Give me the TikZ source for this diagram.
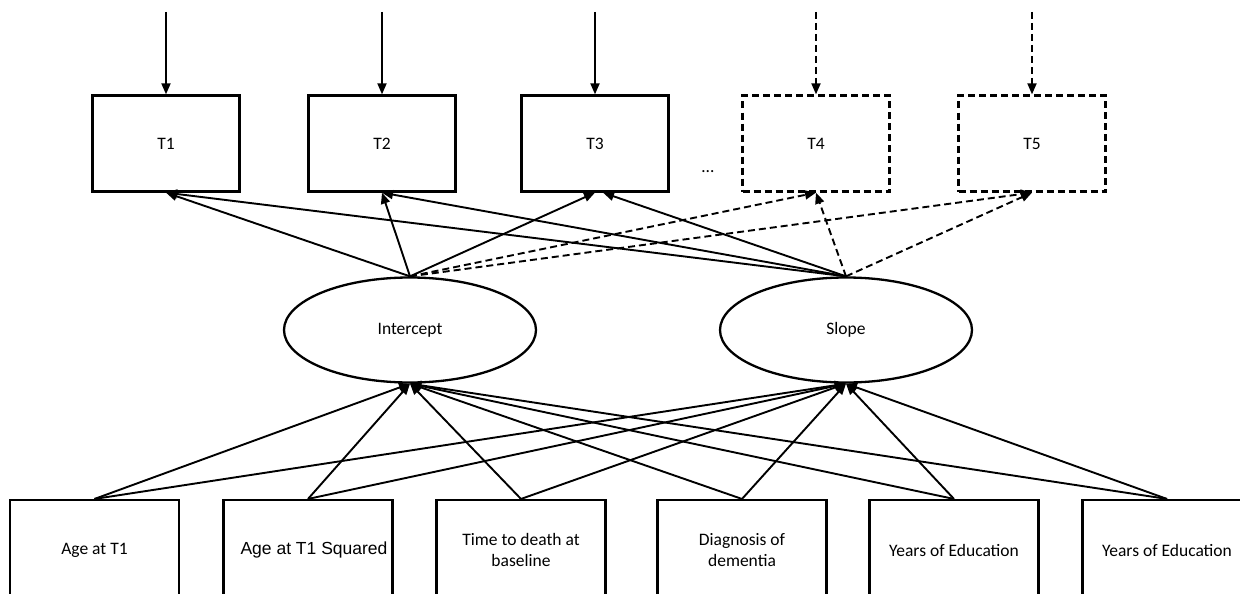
\documentclass[tikz,border=0pt]{standalone}
\usepackage{fontspec}
\setmainfont{Carlito}
\newfontfamily\arialf{Liberation Sans}
\usetikzlibrary{shapes.geometric,arrows.meta}
\begin{document}
\begin{tikzpicture}[x=1pt,y=-1pt,
  every node/.style={font=\fontsize{17.5}{21}\selectfont},
  tbox/.style={draw,line width=2.3pt,minimum width=147pt,minimum height=96pt,inner sep=0pt},
  dbox/.style={tbox,dash pattern=on 7pt off 4pt},
  pbox/.style={draw,line width=2.1pt,minimum width=169pt,minimum height=100pt,inner sep=0pt,align=center},
  lat/.style={draw,ellipse,line width=2.3pt,minimum width=252pt,minimum height=105pt,inner sep=0pt},
  arr/.style={line width=1.9pt,-{Triangle[length=11pt,width=9pt]}},
  darr/.style={arr,dash pattern=on 7pt off 4pt}]
\useasboundingbox (0,0) rectangle (1240,594);
\clip (0,0) rectangle (1240,594);
\fill[white] (0,0) rectangle (1240,594);
% observed variables
\node[tbox] (t1) at (166,143.5) {T1};
\node[tbox] (t2) at (382,143.5) {T2};
\node[tbox] (t3) at (595,143.5) {T3};
\node[dbox] (t4) at (816,143.5) {T4};
\node[dbox] (t5) at (1032,143.5) {T5};
\node (dots) at (708,172) {…};
% error arrows
\coordinate (e1) at (166,12);
\coordinate (e2) at (382,12);
\coordinate (e3) at (595,12);
\coordinate (e4) at (816,12);
\coordinate (e5) at (1032,12);
\draw[arr] (e1) -- (t1.north);
\draw[arr] (e2) -- (t2.north);
\draw[arr] (e3) -- (t3.north);
\draw[darr] (e4) -- (t4.north);
\draw[darr] (e5) -- (t5.north);
% latent
\node[lat] (int) at (410,330) {Intercept};
\node[lat] (slo) at (846,330) {Slope};
% loadings
\draw[arr] (int.north) -- (t1.south);
\draw[arr] (int.north) -- (t2.south);
\draw[arr] (int.north) -- (t3.south);
\draw[darr] (int.north) -- (t4.south);
\draw[darr] (int.north) -- (t5.south);
\draw[arr] (slo.north) -- (t1.south);
\draw[arr] (slo.north) -- (t2.south);
\draw[arr] (slo.north) -- ([xshift=8pt]t3.south);
\draw[darr] (slo.north) -- (t4.south);
\draw[darr] (slo.north) -- (t5.south);
% predictors
\node[pbox] (b1) at (94.5,550) {Age at T1};
\node[pbox] (b2) at (308,550) {\hspace*{12pt}\arialf Age at T1 Squared};
\node[pbox] (b3) at (521,550) {Time to death at\\baseline};
\node[pbox] (b4) at (742,550) {Diagnosis of\\dementia};
\node[pbox] (b5) at (954,550) {Years of Education};
\node[pbox] (b6) at (1167,550) {Years of Education};
\foreach \b in {b1,b2,b3,b4,b5,b6}{
  \draw[arr] (\b.north) -- (int.south);
  \draw[arr] (\b.north) -- (slo.south);
}
\end{tikzpicture}
\end{document}
